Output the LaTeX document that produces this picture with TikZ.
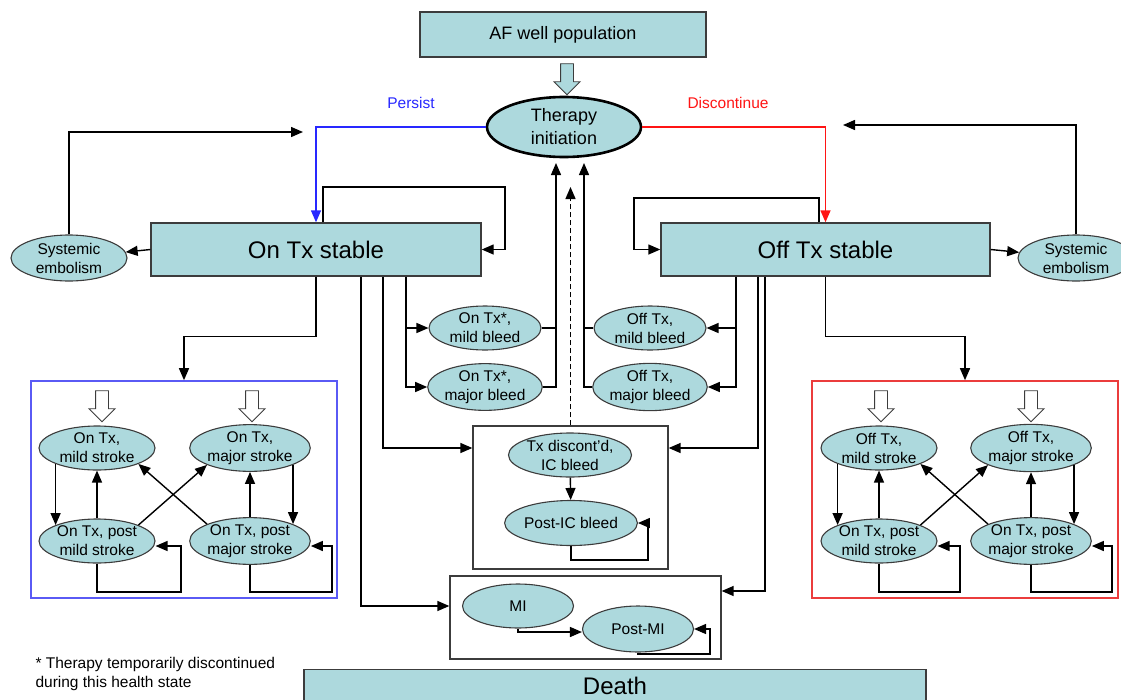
\documentclass[tikz,border=0pt]{standalone}
\usepackage{fontspec}
\setmainfont{Liberation Sans}
\usetikzlibrary{shapes.geometric,shapes.arrows,arrows.meta}
\definecolor{statefill}{RGB}{173,217,221}
\definecolor{edgegray}{RGB}{60,60,60}
\definecolor{persistblue}{RGB}{40,40,255}
\definecolor{stopred}{RGB}{255,20,20}
\definecolor{onframe}{RGB}{90,90,245}
\definecolor{offframe}{RGB}{235,60,60}

\begin{document}
\begin{tikzpicture}[x=1pt,y=-1pt,
  bigbox/.style={draw=edgegray, fill=statefill, line width=1.4pt, inner sep=0pt, font=\fontsize{24}{28}\selectfont},
  hstate/.style={ellipse, draw=edgegray, fill=statefill, line width=1.1pt, inner sep=0pt,
    minimum width=116pt, minimum height=44pt, align=center, font=\fontsize{15.5}{19}\selectfont},
  conn/.style={line width=1.4pt, -{Triangle[length=12pt,width=10pt]}},
  plain/.style={line width=1.4pt},
  groupbox/.style={draw=edgegray, line width=1.3pt, inner sep=0pt},
  hollow/.style={single arrow, draw=edgegray, fill=white, line width=0.9pt, inner sep=6pt,
    minimum height=31pt, single arrow head extend=6.5pt, shape border rotate=270},
  lbl/.style={font=\fontsize{15.5}{18.5}\selectfont}]
\useasboundingbox (0,0) rectangle (1121,699);
\clip (0,0) rectangle (1121,699);

\node[groupbox, draw=onframe, line width=1.6pt, minimum width=306pt, minimum height=217pt] (onbox) at (184,489.5) {};
\node[groupbox, draw=offframe, line width=1.6pt, minimum width=306pt, minimum height=217pt] (offbox) at (965,489.5) {};
\node[groupbox, minimum width=195pt, minimum height=143pt] (icbox) at (570.5,497.5) {};
\node[groupbox, minimum width=271pt, minimum height=83pt] (mibox) at (585.5,617.5) {};

\node[bigbox, minimum width=286pt, minimum height=45pt, font=\fontsize{18}{22}\selectfont] (afwell) at (563,34.5) {AF well population};
\node[hollow, fill=statefill] (inflow) at (567,76) {};
\node[hstate, draw=black, line width=2.6pt, minimum width=154pt, minimum height=60pt, font=\fontsize{18}{23}\selectfont] (therapy) at (564,127) {Therapy\\initiation};
\node[lbl, text=persistblue] (persist) at (411,103) {Persist};
\node[lbl, text=stopred] (discont) at (728,103) {Discontinue};

\node[bigbox, minimum width=330pt, minimum height=53pt] (ontx) at (316,249.5) {On Tx stable};
\node[bigbox, minimum width=329pt, minimum height=53pt] (offtx) at (825.5,249.5) {Off Tx stable};
\node[hstate, minimum height=46pt] (semL) at (69,258) {Systemic\\embolism};
\node[hstate, minimum height=46pt] (semR) at (1076,258) {Systemic\\embolism};
\coordinate (retL) at (303,132);
\coordinate (retR) at (843,125);

\node[hstate, minimum width=112pt] (onmild) at (485,328) {On Tx*,\\mild bleed};
\node[hstate, minimum width=112pt] (onmajor) at (485,387) {On Tx*,\\major bleed};
\node[hstate, minimum width=112pt] (offmild) at (650,328) {Off Tx,\\mild bleed};
\node[hstate, minimum width=112pt] (offmajor) at (650,387) {Off Tx,\\major bleed};
\coordinate (tin1) at (556,163);
\coordinate (tin2) at (584,163);
\coordinate (tin3) at (570.5,187);

\node[hstate, minimum width=118pt] (icbleed) at (570,455) {Tx discont’d,\\IC bleed};
\node[hstate, minimum width=104pt, minimum height=45pt] (postic) at (571,523) {Post-IC bleed};
\node[hstate, minimum width=111pt] (mi) at (518,606) {MI};
\node[hstate, minimum width=111pt, minimum height=46pt] (postmi) at (638,629) {Post-MI};

\node[hollow] (inL1) at (102,403) {};
\node[hollow] (inL2) at (252,403) {};
\node[hstate] (onmildst) at (97,448) {On Tx,\\mild stroke};
\node[hstate] (onmajst) at (250,448) {On Tx,\\major stroke};
\node[hstate] (onpmild) at (97,541) {On Tx, post\\mild stroke};
\node[hstate] (onpmaj) at (250,541) {On Tx, post\\major stroke};

\node[hollow] (inR1) at (881,403) {};
\node[hollow] (inR2) at (1031,403) {};
\node[hstate] (offmildst) at (879,448) {Off Tx,\\mild stroke};
\node[hstate, minimum width=118pt] (offmajst) at (1031,448) {Off Tx,\\major stroke};
\node[hstate] (offpmild) at (879,541) {On Tx, post\\mild stroke};
\node[hstate, minimum width=118pt] (offpmaj) at (1031,541) {On Tx, post\\major stroke};

\node[bigbox, anchor=north, minimum width=622pt, minimum height=32pt] (death) at (615,669) {Death};
\node[lbl, anchor=west, align=left] (note) at (32,674) {* Therapy temporarily discontinued\\during this health state};

\draw[conn, persistblue] (therapy.west) -| (ontx.north);
\draw[conn, stopred] (therapy.east) -| (offtx.north);
\draw[conn] ([xshift=7pt]ontx.north) |- (505,187) |- (ontx.east);
\draw[conn] ([xshift=-6.5pt]offtx.north) |- (634,198) |- (offtx.west);
\draw[conn] (ontx.west) -- (semL);
\draw[conn] (offtx.east) -- (semR);
\draw[conn] (semL.north) |- (retL);
\draw[conn] (semR.north) |- (retR);

\draw[conn] (ontx.south) -- ++(0,60) -| (onbox.north);
\coordinate (a1) at ([xshift=45pt]ontx.south);
\coordinate (a2) at ([xshift=67pt]ontx.south);
\coordinate (a3) at ([xshift=90pt]ontx.south);
\draw[conn] (a1) |- ([yshift=11.5pt]mibox.west);
\draw[conn] (a2) |- ([yshift=49.5pt]icbox.west);
\draw[conn] (a3) |- (onmajor.west);
\draw[conn] (a3 |- onmild.west) -- (onmild.west);
\draw[conn] (onmild.east) -| (tin1);
\draw[plain] (onmajor.east) -| (onmild.east -| tin1);

\draw[conn] (offtx.south) -- ++(0,60) -| (offbox.north);
\coordinate (b1) at ([xshift=-60.5pt]offtx.south);
\coordinate (b2) at ([xshift=-67.5pt]offtx.south);
\coordinate (b3) at ([xshift=-89.5pt]offtx.south);
\draw[conn] (b1) |- ([yshift=26.5pt]mibox.east);
\draw[conn] (b2) |- ([yshift=49.5pt]icbox.east);
\draw[conn] (b3) |- (offmajor.east);
\draw[conn] (b3 |- offmild.east) -- (offmild.east);
\draw[conn] (offmild.west) -| (tin2);
\draw[plain] (offmajor.west) -| (offmild.west -| tin2);
\draw[conn, dash pattern=on 5pt off 3pt] (icbox.north) -- (tin3);

\draw[conn] (icbleed) -- (postic);
\draw[conn] (postic.south) |- (648,560) |- (postic.east);
\draw[conn] (mi.south) |- ([yshift=-3pt]postmi.west);
\draw[conn] (postmi.south) |- (710,654) |- (postmi.east);

\draw[conn] (onmildst.south west) -- (onpmild.north west);
\draw[conn] (onpmild.north) -- (onmildst.south);
\draw[conn] (onmajst.south east) -- (onpmaj.north east);
\draw[conn] (onpmaj.north) -- (onmajst.south);
\draw[conn] (onpmild.north east) -- (onmajst.south west);
\draw[conn] (onpmaj.north west) -- (onmildst.south east);
\draw[conn] (onpmild.south) |- (181,592) |- ([yshift=-5pt]onpmild.east);
\draw[conn] (onpmaj.south) |- (332,592) |- ([yshift=-5pt]onpmaj.east);

\draw[conn] (offmildst.south west) -- (offpmild.north west);
\draw[conn] (offpmild.north) -- (offmildst.south);
\draw[conn] (offmajst.south east) -- (offpmaj.north east);
\draw[conn] (offpmaj.north) -- (offmajst.south);
\draw[conn] (offpmild.north east) -- (offmajst.south west);
\draw[conn] (offpmaj.north west) -- (offmildst.south east);
\draw[conn] (offpmild.south) |- (960,592) |- ([yshift=-5pt]offpmild.east);
\draw[conn] (offpmaj.south) |- (1112,592) |- ([yshift=-5pt]offpmaj.east);
\end{tikzpicture}
\end{document}
